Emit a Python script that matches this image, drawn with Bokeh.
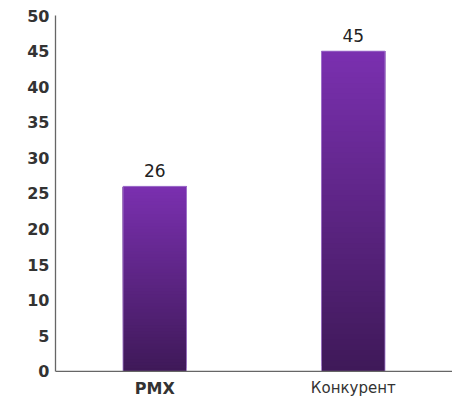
import numpy as np
from bokeh.plotting import figure
from bokeh.models import ColumnDataSource, Range1d, FactorRange, FixedTicker, Span
from bokeh.core.properties import value
from bokeh.embed import file_html
from bokeh.resources import INLINE

categories = ["PMX", "Конкурент"]
values = [26, 45]
y_ticks = [0, 5, 10, 15, 20, 25, 30, 35, 40, 45, 50]

TOP_COLOR = (123, 48, 176)
BOTTOM_COLOR = (62, 25, 88)
N_SLICES = 60

p = figure(width=452, height=398, x_range=FactorRange(*categories), y_range=Range1d(-3.8, 50),
           output_backend="svg", toolbar_location=None,
           min_border_left=55, min_border_right=0, min_border_top=15, min_border_bottom=0)
p.outline_line_color = None
p.xgrid.visible = False
p.ygrid.visible = False
p.background_fill_color = "white"
p.border_fill_color = "white"
p.xaxis.visible = False

# gradient bars made of overlapping slices (each drawn from its start up to the bar top)
xs, bots, tops, cols = [], [], [], []
for c, v in zip(categories, values):
    for i in range(N_SLICES):
        f = (i + 0.5) / N_SLICES
        rgb = [int(round(b + (t - b) * f)) for b, t in zip(BOTTOM_COLOR, TOP_COLOR)]
        xs.append(c)
        bots.append(v * i / N_SLICES)
        tops.append(v)
        cols.append("#%02x%02x%02x" % tuple(rgb))
slices = ColumnDataSource(dict(x=xs, bottom=bots, top=tops, color=cols))
p.vbar(x="x", bottom="bottom", top="top", width=0.32, source=slices,
       fill_color="color", line_color=None)

src = ColumnDataSource(dict(x=categories, top=values, label=[str(v) for v in values],
                            style=["bold", "normal"], size=["16px", "15px"]))
p.vbar(x="x", top="top", width=0.32, source=src, fill_color=None,
       line_color="#a983d2", line_width=1, line_alpha=0.8)

# x axis line at zero
p.add_layout(Span(location=0, dimension="width", line_color="#666666", line_width=1.3))

p.text(x="x", y="top", text="label", source=src, text_align="center", text_baseline="bottom",
       y_offset=-9, text_font=value("DejaVu Sans"), text_font_size="17px",
       text_color="#222222")

p.text(x="x", y=0, text="x", source=src, text_align="center", text_baseline="top",
       y_offset=8, text_font=value("DejaVu Sans"), text_font_size="size",
       text_font_style="style", text_color="#333333")

p.yaxis.ticker = FixedTicker(ticks=y_ticks)
p.yaxis.bounds = (0, 50)
p.yaxis.major_label_text_font = "DejaVu Sans"
p.yaxis.major_label_text_font_size = "16px"
p.yaxis.major_label_text_font_style = "bold"
p.yaxis.major_label_text_color = "#333333"
p.yaxis.major_tick_in = 0
p.yaxis.major_tick_out = 0
p.yaxis.minor_tick_in = 0
p.yaxis.minor_tick_out = 0
p.yaxis.major_label_standoff = 6
p.yaxis.axis_line_color = "#666666"
p.yaxis.axis_line_width = 1.3

open("out.html", "w").write(file_html(p, INLINE))
